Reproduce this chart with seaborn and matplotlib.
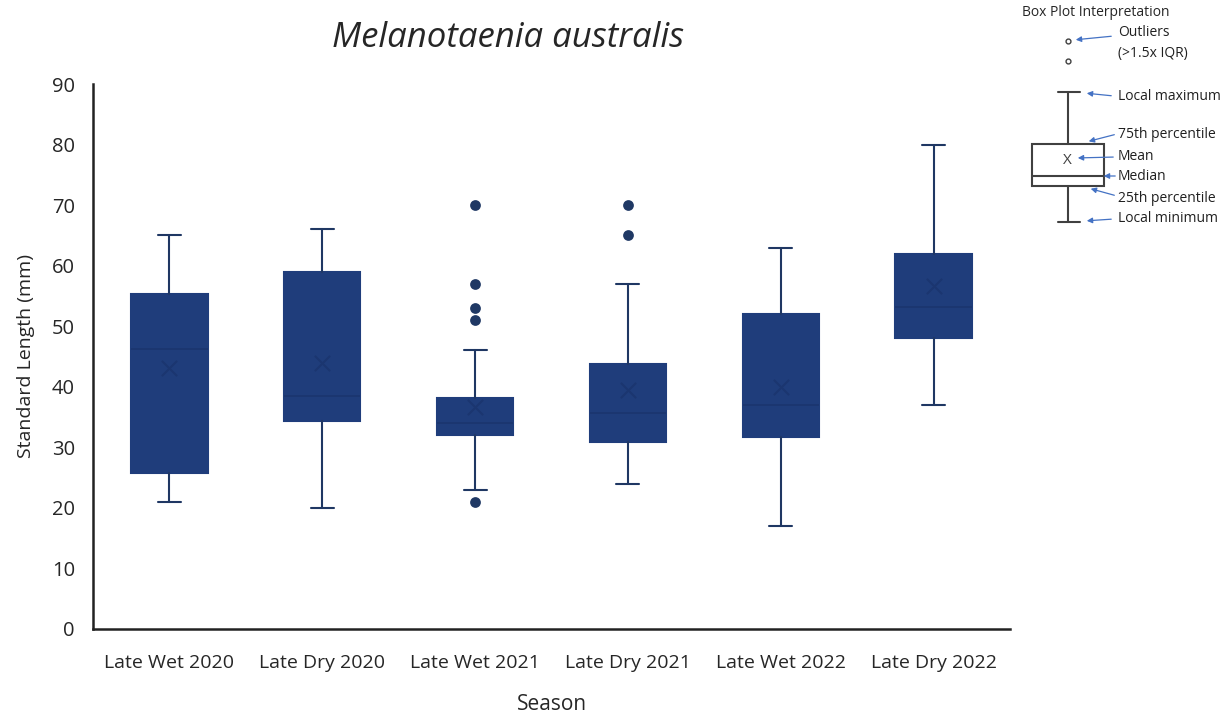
import matplotlib
matplotlib.use("Agg")
import matplotlib.pyplot as plt
import numpy as np
import pandas as pd
import seaborn as sns

seasons = ["Late Wet 2020", "Late Dry 2020", "Late Wet 2021",
           "Late Dry 2021", "Late Wet 2022", "Late Dry 2022"]
whisk_lo = [21, 20, 23, 24, 17, 37]
q1 = [25.8, 34.3, 32.0, 30.9, 31.7, 48.0]
median = [46.3, 38.5, 34.1, 35.6, 37.0, 53.2]
q3 = [55.3, 59.0, 38.1, 43.7, 52.1, 62.0]
whisk_hi = [65, 66, 46, 57, 63, 80]
mean = [43.1, 43.9, 36.6, 39.5, 39.9, 56.7]
outliers = [[], [], [70, 57, 53, 51, 21], [70, 65], [], []]

BOX = "#1f3d7b"
LINE = "#1f3763"
ARROW = "#4472c4"

sns.set_theme(style="white")
plt.rcParams["font.family"] = ["Open Sans", "DejaVu Sans"]

fig = plt.figure(figsize=(12.3, 7.21), dpi=100)
ax = fig.add_axes([93 / 1230, 1 - 629 / 721, 917 / 1230, 545 / 721])

stats = [
    {"whislo": lo, "q1": a, "med": m, "q3": b, "whishi": hi, "fliers": []}
    for lo, a, m, b, hi in zip(whisk_lo, q1, median, q3, whisk_hi)
]
pos = np.arange(len(seasons))
ax.bxp(stats, positions=pos, widths=0.5, patch_artist=True, showfliers=False,
       boxprops={"facecolor": BOX, "edgecolor": BOX, "linewidth": 1.5},
       medianprops={"color": "#1b3670", "linewidth": 1.4},
       whiskerprops={"color": LINE, "linewidth": 1.5},
       capprops={"color": LINE, "linewidth": 1.5},
       capwidths=0.15)

out_df = pd.DataFrame([(i, v) for i, vals in enumerate(outliers) for v in vals],
                      columns=["pos", "value"])
sns.scatterplot(data=out_df, x="pos", y="value", ax=ax, color="#1f3864",
                s=60, edgecolor="#1f3864", linewidth=0, zorder=4)

mean_df = pd.DataFrame({"pos": pos, "value": mean})
sns.scatterplot(data=mean_df, x="pos", y="value", ax=ax, marker="x",
                color="#1b3670", s=120, linewidth=1.5, zorder=4)

ax.set_xlim(-0.5, len(seasons) - 0.5)
ax.set_ylim(0, 90)
ax.set_yticks(range(0, 91, 10))
ax.set_xticks(pos)
ax.set_xticklabels(seasons, fontsize=14)
ax.tick_params(axis="y", labelsize=14.5, pad=13, length=0)
ax.tick_params(axis="x", pad=18, length=0)
for t in ax.get_yticklabels():
    t.set_color("#262626")
ax.set_xlabel("Season", fontsize=15, labelpad=16)
ax.set_ylabel("Standard Length (mm)", fontsize=14, labelpad=12)
for s in ("top", "right"):
    ax.spines[s].set_visible(False)
for s in ("left", "bottom"):
    ax.spines[s].set_color("#222222")
    ax.spines[s].set_linewidth(1.8)

fig.text(508 / 1230, 1 - 38 / 721, "Melanotaenia australis", ha="center",
         va="center", fontsize=25, style="italic")

# interpretation key, drawn in pixel coordinates
key = fig.add_axes([0, 0, 1, 1], facecolor="none")
key.set_xlim(0, 1230)
key.set_ylim(721, 0)
key.axis("off")
kc = "#404040"
key.text(1096, 13, "Box Plot Interpretation", ha="center", va="center", fontsize=10)
key.plot([1068, 1068], [41, 61], ls="none", marker="o", ms=3.5,
         mfc="white", mec=kc, mew=1)
key.plot([1068, 1068], [92, 144], color=kc, lw=1.5)
key.plot([1068, 1068], [186, 222], color=kc, lw=1.5)
key.plot([1058, 1080], [92, 92], color=kc, lw=1.5)
key.plot([1058, 1080], [222, 222], color=kc, lw=1.5)
key.add_patch(plt.Rectangle((1032, 144), 72, 42, fill=False, ec=kc, lw=1.5))
key.plot([1032, 1104], [175.5, 175.5], color=kc, lw=1.5)
key.text(1067, 160, "X", ha="center", va="center", fontsize=11, color=kc)

labels = [
    ("Outliers", 1118, 32, (1114, 36), (1073, 40)),
    ("(>1.5x IQR)", 1118, 54, None, None),
    ("Local maximum", 1118, 96, (1114, 96), (1084, 93)),
    ("75th percentile", 1118, 135, (1117, 134), (1086, 142)),
    ("Mean", 1118, 156, (1116, 157), (1075, 158)),
    ("Median", 1118, 176, (1118, 176), (1101, 176)),
    ("25th percentile", 1118, 198, (1117, 196), (1088, 188)),
    ("Local minimum", 1118, 218, (1114, 219), (1084, 221)),
]
for txt, x, y, start, end in labels:
    key.text(x, y, txt, ha="left", va="center", fontsize=10, color="#202020")
    if start is not None:
        key.annotate("", xy=end, xytext=start,
                     arrowprops={"arrowstyle": "-|>", "color": ARROW,
                                 "lw": 0.9, "mutation_scale": 8})

fig.savefig("out.png", dpi=100)
